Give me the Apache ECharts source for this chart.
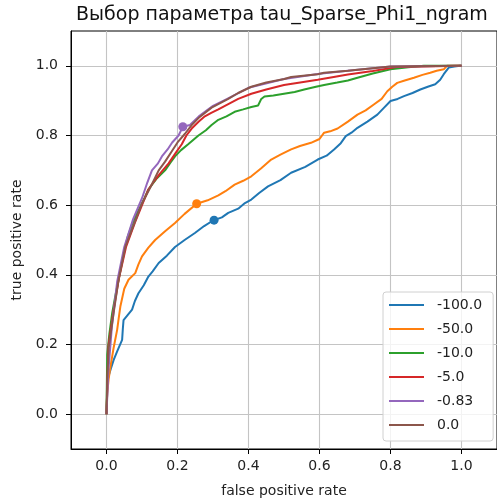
<!DOCTYPE html>
<html><head><meta charset="utf-8">
<script src="https://cdn.jsdelivr.net/npm/echarts@6/dist/echarts.min.js"></script>
<style>html,body{margin:0;padding:0;background:#fff}#c{width:497px;height:503px}</style>
</head><body><div id="c"></div>
<script>
const titleText = "Выбор параметра tau_Sparse_Phi1_ngram";
const xLabel = "false positive rate";
const yLabel = "true positive rate";
const tickValues = [0, 0.2, 0.4, 0.6, 0.8, 1.0];
const seriesNames = ["-100.0", "-50.0", "-10.0", "-5.0", "-0.83", "0.0"];
const colors = ["#1f77b4", "#ff7f0e", "#2ca02c", "#d62728", "#9467bd", "#8c564b"];

const fpr_m100 = [0,0.002,0.003,0.012,0.02,0.03,0.044,0.046,0.048,0.06,0.072,0.08,0.09,0.105,0.118,0.13,0.147,0.17,0.193,0.22,0.249,0.275,0.30,0.325,0.343,0.371,0.39,0.408,0.43,0.455,0.49,0.52,0.56,0.595,0.62,0.641,0.66,0.674,0.69,0.707,0.735,0.763,0.78,0.8,0.82,0.838,0.862,0.884,0.905,0.926,0.94,0.95,0.964,0.98,0.996,1];
const tpr_m100 = [0,0.065,0.1,0.13,0.155,0.18,0.213,0.245,0.27,0.285,0.30,0.325,0.347,0.37,0.395,0.41,0.434,0.455,0.48,0.5,0.52,0.54,0.556,0.565,0.578,0.59,0.606,0.616,0.635,0.654,0.672,0.693,0.71,0.731,0.742,0.76,0.778,0.798,0.808,0.822,0.84,0.86,0.878,0.899,0.905,0.913,0.922,0.932,0.94,0.947,0.96,0.976,0.995,0.998,1.0,1];

const fpr_m50 = [0,0.002,0.006,0.011,0.02,0.03,0.035,0.039,0.05,0.062,0.081,0.09,0.1,0.118,0.137,0.165,0.193,0.22,0.254,0.285,0.315,0.335,0.361,0.385,0.408,0.435,0.464,0.49,0.52,0.545,0.576,0.6,0.613,0.63,0.651,0.68,0.707,0.73,0.753,0.775,0.791,0.805,0.819,0.84,0.866,0.89,0.912,0.93,0.95,0.959,1];
const tpr_m50 = [0,0.06,0.1,0.136,0.19,0.242,0.28,0.309,0.36,0.386,0.405,0.43,0.453,0.478,0.5,0.525,0.549,0.575,0.604,0.614,0.628,0.64,0.659,0.67,0.683,0.705,0.731,0.745,0.76,0.77,0.779,0.79,0.808,0.812,0.82,0.84,0.86,0.872,0.889,0.905,0.927,0.94,0.951,0.958,0.966,0.974,0.98,0.986,0.99,1.0,1];

const fpr_m10 = [0,0.002,0.008,0.016,0.025,0.034,0.048,0.06,0.072,0.085,0.095,0.107,0.118,0.14,0.165,0.18,0.193,0.21,0.23,0.259,0.28,0.296,0.315,0.338,0.361,0.385,0.408,0.427,0.436,0.445,0.47,0.5,0.53,0.557,0.59,0.613,0.65,0.68,0.707,0.75,0.8,0.85,0.894,1];
const tpr_m10 = [0,0.17,0.23,0.29,0.34,0.386,0.46,0.51,0.545,0.575,0.595,0.62,0.645,0.675,0.70,0.722,0.74,0.758,0.775,0.80,0.815,0.83,0.845,0.855,0.868,0.875,0.882,0.886,0.905,0.912,0.915,0.92,0.925,0.932,0.94,0.945,0.952,0.958,0.966,0.978,0.99,0.996,1.0,1];

const fpr_m5 = [0,0.006,0.02,0.035,0.055,0.08,0.1,0.118,0.135,0.15,0.175,0.195,0.212,0.225,0.24,0.26,0.277,0.295,0.315,0.343,0.371,0.408,0.45,0.5,0.55,0.595,0.64,0.68,0.75,0.82,1];
const tpr_m5 = [0,0.2,0.3,0.39,0.48,0.55,0.6,0.645,0.67,0.69,0.72,0.75,0.775,0.80,0.82,0.84,0.855,0.865,0.875,0.89,0.905,0.92,0.932,0.945,0.953,0.96,0.968,0.975,0.985,0.997,1];

const fpr_m083 = [0,0.005,0.015,0.03,0.05,0.075,0.1,0.115,0.128,0.145,0.156,0.172,0.185,0.203,0.215,0.235,0.26,0.3,0.34,0.4,0.5,0.6,0.7,0.8,1];
const tpr_m083 = [0,0.12,0.25,0.38,0.48,0.56,0.62,0.665,0.70,0.72,0.74,0.76,0.78,0.80,0.825,0.83,0.855,0.885,0.905,0.937,0.962,0.977,0.988,0.998,1];

const fpr_0 = [0,0.002,0.006,0.02,0.034,0.053,0.081,0.1,0.128,0.147,0.165,0.184,0.2,0.221,0.24,0.259,0.296,0.343,0.371,0.408,0.45,0.501,0.52,0.595,0.613,0.68,0.8,1];
const tpr_0 = [0,0.1,0.19,0.29,0.386,0.48,0.555,0.605,0.66,0.70,0.725,0.755,0.78,0.805,0.83,0.85,0.88,0.905,0.922,0.94,0.952,0.962,0.968,0.976,0.98,0.986,0.998,1];

const markerNames = ["-100.0", "-50.0", "-0.83"];
const markerX = [0.303, 0.254, 0.215];
const markerY = [0.557, 0.604, 0.825];

const fprs = [fpr_m100, fpr_m50, fpr_m10, fpr_m5, fpr_m083, fpr_0];
const tprs = [tpr_m100, tpr_m50, tpr_m10, tpr_m5, tpr_m083, tpr_0];

const font = "DejaVu Sans";
const series = [];
seriesNames.forEach((n, i) => {
  series.push({
    name: n, type: 'line', symbol: 'none', z: 2 + i,
    data: fprs[i].map((x, k) => [x, tprs[i][k]]),
    lineStyle: { color: colors[i], width: 2 },
    itemStyle: { color: colors[i] },
    emphasis: { disabled: true }, animation: false
  });
  const mi = markerNames.indexOf(n);
  if (mi >= 0) {
    series.push({
      name: n + "_pt", type: 'scatter', symbol: 'circle', symbolSize: 9, z: 2 + i,
      data: [[markerX[mi], markerY[mi]]],
      itemStyle: { color: colors[i], opacity: 1 }, animation: false
    });
  }
});

const axisCommon = {
  type: 'value', min: -0.1, max: 1.1,
  axisLine: { show: true, onZero: false, lineStyle: { color: '#000', width: 1 } },
  axisTick: { show: true, inside: false, length: 5, customValues: tickValues, lineStyle: { color: '#000' } },
  axisLabel: { customValues: tickValues, color: '#222', fontFamily: font, fontSize: 14,
    formatter: v => Number(v).toFixed(1) },
  splitLine: { show: true, lineStyle: { color: '#c4c4c4', width: 1.1 } },
  nameLocation: 'middle',
  nameTextStyle: { fontFamily: font, fontSize: 14, color: '#222' }
};

const chart = echarts.init(document.getElementById('c'), null, { renderer: 'canvas' });
chart.setOption({
  backgroundColor: '#fff',
  animation: false,
  title: { text: titleText, left: 71, top: 1,
    textStyle: { fontFamily: font, fontSize: 19, fontWeight: 'normal', color: '#111' } },
  grid: { left: 71, top: 31, width: 429, height: 418, show: true, borderColor: '#000', borderWidth: 1, backgroundColor: 'transparent' },
  xAxis: Object.assign({}, axisCommon, { name: xLabel, nameGap: 35,
    axisLabel: Object.assign({}, axisCommon.axisLabel, { margin: 10 }) }),
  yAxis: Object.assign({}, axisCommon, { name: yLabel, nameGap: 47,
    axisLabel: Object.assign({}, axisCommon.axisLabel, { margin: 13 }) }),
  legend: {
    data: seriesNames, orient: 'vertical', left: 383, top: 292,
    itemWidth: 35, itemHeight: 14, itemGap: 10,
    padding: [6, 11, 9, 5],
    itemStyle: { opacity: 0, borderWidth: 0 },
    lineStyle: { width: 2 },
    backgroundColor: 'rgba(255,255,255,0.8)', borderColor: '#d0d0d0', borderWidth: 1, borderRadius: 3,
    textStyle: { fontFamily: font, fontSize: 14, color: '#222', padding: [0, 0, 0, 8] },
    selectedMode: false
  },
  series: series
});
</script></body></html>
